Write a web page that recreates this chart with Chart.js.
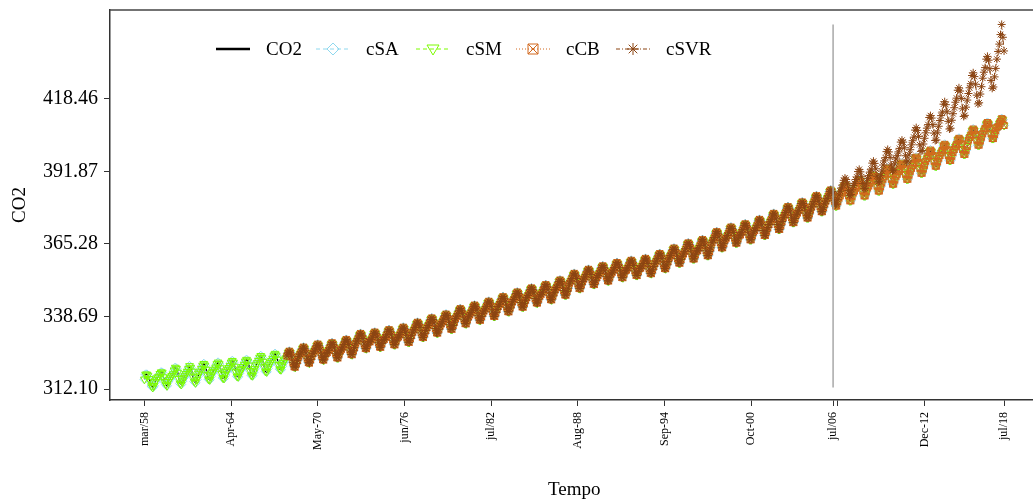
<!DOCTYPE html>
<html>
<head>
<meta charset="utf-8">
<title>CO2 - modelos</title>
<script src="https://cdn.jsdelivr.net/npm/chart.js@4.4.1/dist/chart.umd.min.js"></script>
<style>
  html, body { margin: 0; padding: 0; background: #fff; overflow: hidden; }
  #wrap { width: 1044px; height: 504px; }
</style>
</head>
<body>
<div id="wrap"><canvas id="grafico" width="1044" height="504"></canvas></div>
<script>
// Serie mensal de CO2, de mar/58 ate jul/18
const co2 = [
  315.7, 317.5, 317.5, 317.1, 315.9, 314.9, 313.2, 312.7, 313.3, 314.7,
  315.6, 316.4, 316.7, 317.7, 318.3, 318.2, 316.5, 314.8, 313.8, 313.3, 314.8, 315.6,
  316.4, 317.0, 317.6, 319.0, 320.0, 319.6, 318.2, 315.9, 314.2, 313.8, 315.0, 316.2,
  316.9, 317.7, 318.5, 319.5, 320.6, 320.0, 318.6, 316.5, 314.9, 314.4, 315.6, 316.8,
  317.8, 318.6, 319.6, 320.8, 321.4, 320.8, 319.3, 317.3, 315.7, 315.5, 316.8, 318.0,
  318.5, 319.3, 320.1, 321.3, 321.9, 321.3, 319.8, 317.8, 316.2, 316.0, 317.3, 318.5,
  319.1, 319.9, 320.7, 321.9, 322.5, 321.9, 320.4, 318.4, 316.8, 316.6, 317.9, 319.1,
  319.5, 320.3, 321.1, 322.3, 322.9, 322.3, 320.8, 318.8, 317.2, 317.0, 318.3, 319.5,
  320.9, 321.7, 322.5, 323.7, 324.3, 323.7, 322.2, 320.2, 318.6, 318.4, 319.7, 320.9,
  321.7, 322.5, 323.3, 324.5, 325.1, 324.5, 323.0, 321.0, 319.4, 319.2, 320.5, 321.7,
  322.6, 323.4, 324.2, 325.4, 326.0, 325.4, 323.9, 321.9, 320.3, 320.1, 321.4, 322.6,
  324.1, 324.9, 325.7, 326.9, 327.5, 326.9, 325.4, 323.4, 321.8, 321.6, 322.9, 324.1,
  325.2, 326.0, 326.8, 328.0, 328.6, 328.0, 326.5, 324.5, 322.9, 322.7, 324.0, 325.2,
  325.5, 326.3, 327.2, 328.5, 329.1, 328.5, 327.2, 325.2, 323.6, 323.5, 324.9, 326.1,
  326.7, 327.5, 328.4, 329.7, 330.3, 329.7, 328.4, 326.4, 324.8, 324.7, 326.1, 327.3,
  328.9, 329.7, 330.6, 331.9, 332.5, 331.9, 330.6, 328.6, 327.0, 326.9, 328.3, 329.5,
  329.4, 330.2, 331.1, 332.4, 333.0, 332.4, 331.1, 329.1, 327.5, 327.4, 328.8, 330.0,
  330.3, 331.1, 332.0, 333.3, 333.9, 333.3, 332.0, 330.0, 328.4, 328.3, 329.7, 330.9,
  331.2, 332.0, 332.9, 334.2, 334.8, 334.2, 332.9, 330.9, 329.3, 329.2, 330.6, 331.8,
  333.0, 333.8, 334.7, 336.0, 336.6, 336.0, 334.7, 332.7, 331.1, 331.0, 332.4, 333.6,
  334.6, 335.4, 336.3, 337.6, 338.2, 337.6, 336.3, 334.3, 332.7, 332.6, 334.0, 335.2,
  336.0, 336.8, 337.7, 339.0, 339.6, 339.0, 337.7, 335.7, 334.1, 334.0, 335.4, 336.6,
  338.0, 338.8, 339.7, 341.0, 341.6, 341.0, 339.7, 337.7, 336.1, 336.0, 337.4, 338.6,
  339.3, 340.1, 341.0, 342.3, 342.9, 342.3, 341.0, 339.0, 337.4, 337.3, 338.7, 339.9,
  340.7, 341.5, 342.4, 343.7, 344.3, 343.7, 342.4, 340.4, 338.8, 338.7, 340.1, 341.3,
  342.4, 343.2, 344.1, 345.4, 346.0, 345.4, 344.1, 342.1, 340.5, 340.4, 341.8, 343.0,
  344.1, 344.9, 345.8, 347.1, 347.7, 347.1, 345.8, 343.8, 342.2, 342.1, 343.5, 344.7,
  345.6, 346.4, 347.3, 348.6, 349.2, 348.6, 347.3, 345.3, 343.7, 343.6, 345.0, 346.2,
  346.8, 347.6, 348.5, 349.8, 350.4, 349.8, 348.5, 346.5, 344.9, 344.8, 346.2, 347.4,
  348.5, 349.3, 350.2, 351.5, 352.1, 351.5, 350.2, 348.2, 346.6, 346.5, 347.9, 349.1,
  350.9, 351.7, 352.6, 353.9, 354.5, 353.9, 352.6, 350.6, 349.0, 348.9, 350.3, 351.5,
  352.4, 353.2, 354.1, 355.4, 356.0, 355.4, 354.1, 352.1, 350.5, 350.4, 351.8, 353.0,
  353.7, 354.5, 355.4, 356.7, 357.3, 356.7, 355.4, 353.4, 351.8, 351.7, 353.1, 354.3,
  354.9, 355.7, 356.6, 357.9, 358.5, 357.9, 356.6, 354.6, 353.0, 352.9, 354.3, 355.5,
  355.7, 356.5, 357.4, 358.7, 359.3, 358.7, 357.4, 355.4, 353.8, 353.7, 355.1, 356.3,
  356.4, 357.2, 358.1, 359.4, 360.0, 359.4, 358.1, 356.1, 354.5, 354.4, 355.8, 357.0,
  358.2, 359.0, 359.9, 361.2, 361.8, 361.2, 359.9, 357.9, 356.3, 356.2, 357.6, 358.8,
  360.2, 361.0, 361.9, 363.2, 363.8, 363.2, 361.9, 359.9, 358.3, 358.2, 359.6, 360.8,
  361.6, 362.6, 363.5, 365.1, 365.7, 365.1, 363.7, 361.6, 359.8, 359.8, 361.3, 362.7,
  362.8, 363.8, 364.7, 366.3, 366.9, 366.3, 364.9, 362.8, 361.0, 361.0, 362.5, 363.9,
  365.7, 366.7, 367.6, 369.2, 369.8, 369.2, 367.8, 365.7, 363.9, 363.9, 365.4, 366.8,
  367.4, 368.4, 369.3, 370.9, 371.5, 370.9, 369.5, 367.4, 365.6, 365.6, 367.1, 368.5,
  368.6, 369.6, 370.5, 372.1, 372.7, 372.1, 370.7, 368.6, 366.8, 366.8, 368.3, 369.7,
  370.2, 371.2, 372.1, 373.7, 374.3, 373.7, 372.3, 370.2, 368.4, 368.4, 369.9, 371.3,
  372.4, 373.4, 374.3, 375.9, 376.5, 375.9, 374.5, 372.4, 370.6, 370.6, 372.1, 373.5,
  374.9, 375.9, 376.8, 378.4, 379.0, 378.4, 377.0, 374.9, 373.1, 373.1, 374.6, 376.0,
  376.6, 377.6, 378.5, 380.1, 380.7, 380.1, 378.7, 376.6, 374.8, 374.8, 376.3, 377.7,
  378.9, 379.9, 380.8, 382.4, 383.0, 382.4, 381.0, 378.9, 377.1, 377.1, 378.6, 380.0,
  381.0, 382.0, 382.9, 384.5, 385.1, 384.5, 383.1, 381.0, 379.2, 379.2, 380.7, 382.1,
  382.9, 383.9, 384.8, 386.4, 387.0, 386.4, 385.0, 382.9, 381.1, 381.1, 382.6, 384.0,
  384.7, 385.7, 386.6, 388.2, 388.8, 388.2, 386.8, 384.7, 382.9, 382.9, 384.4, 385.8,
  386.5, 387.5, 388.4, 390.0, 390.6, 390.0, 388.6, 386.5, 384.7, 384.7, 386.2, 387.6,
  389.0, 390.0, 390.9, 392.5, 393.1, 392.5, 391.1, 389.0, 387.2, 387.2, 388.7, 390.1,
  390.8, 391.8, 392.7, 394.3, 394.9, 394.3, 392.9, 390.8, 389.0, 389.0, 390.5, 391.9,
  393.0, 394.0, 394.9, 396.5, 397.1, 396.5, 395.1, 393.0, 391.2, 391.2, 392.7, 394.1,
  395.6, 396.6, 397.5, 399.1, 399.7, 399.1, 397.7, 395.6, 393.8, 393.8, 395.3, 396.7,
  397.7, 398.7, 399.6, 401.2, 401.8, 401.2, 399.8, 397.7, 395.9, 395.9, 397.4, 398.8,
  399.9, 400.9, 401.8, 403.4, 404.0, 403.4, 402.0, 399.9, 398.1, 398.1, 399.6, 401.0,
  403.3, 404.3, 405.2, 406.8, 407.4, 406.8, 405.4, 403.3, 401.5, 401.5, 403.0, 404.4,
  405.7, 406.7, 407.6, 409.2, 409.8, 409.2, 407.8, 405.7, 403.9, 403.9, 405.4, 406.8,
  408.0, 408.3, 409.4, 410.2, 411.2, 410.8, 408.7
];

// Previsao do cSVR no periodo de teste (jul/06 a jul/18)
const svrTeste = [
  383.6, 381.3, 379.6, 379.9, 381.5, 383.2,
  384.6, 385.8, 386.9, 388.6, 389.4, 388.9, 387.3, 384.9, 383.0, 383.4, 385.1, 386.7,
  387.5, 388.9, 389.8, 391.8, 392.6, 391.7, 389.9, 387.4, 385.5, 385.7, 387.6, 389.3,
  390.3, 391.6, 392.7, 394.9, 395.6, 394.8, 392.8, 390.1, 388.0, 388.3, 390.3, 392.0,
  394.2, 395.7, 396.9, 399.1, 399.9, 399.0, 397.0, 394.2, 392.1, 392.4, 394.6, 396.4,
  397.6, 399.0, 400.3, 402.6, 403.3, 402.6, 400.5, 397.6, 395.3, 395.7, 397.9, 399.8,
  401.6, 403.1, 404.4, 407.0, 407.9, 406.9, 404.7, 401.6, 399.2, 399.5, 401.9, 404.0,
  406.0, 407.7, 409.0, 411.6, 412.3, 411.4, 409.0, 405.9, 403.2, 403.4, 406.0, 408.4,
  410.5, 412.3, 413.6, 416.5, 417.4, 416.3, 413.7, 410.2, 407.4, 407.7, 410.6, 413.0,
  415.2, 417.2, 418.7, 421.6, 422.5, 421.3, 418.6, 414.8, 412.0, 412.4, 415.4, 418.0,
  420.4, 422.5, 424.0, 427.0, 428.0, 426.6, 423.8, 419.8, 416.6, 417.0, 420.2, 422.9,
  426.0, 428.2, 429.9, 433.0, 434.0, 432.6, 429.5, 425.2, 422.3, 422.8, 426.5, 429.6,
  433.0, 435.8, 438.5, 442.0, 445.7, 441.0, 436.0
];

// Eixos
const xTickPos = [0, 73, 146, 219, 292, 365, 438, 511, 580, 584, 657, 724];
const xTickLabels = ['mar/58', 'Apr-64', 'May-70', 'jun/76', 'jul/82', 'Aug-88', 'Sep-94', 'Oct-00', 'jul/06', '', 'Dec-12', 'jul/18'];
const yTicks = [312.10, 338.69, 365.28, 391.87, 418.46];

const inicioModelos = 120; // cCB e cSVR comecam em mar/68
const corte = 580;         // jul/06 - inicio do teste

// Monta as series no formato {x, y}
const serieCO2 = co2.map((v, i) => ({ x: i, y: v }));
const serieCB = serieCO2.slice(inicioModelos);
const serieSVR = serieCO2.slice(inicioModelos, corte)
  .concat(svrTeste.map((v, i) => ({ x: corte + i, y: v })));

const FONTE = "'Liberation Serif', 'Times New Roman', serif";
const cores = { co2: '#000000', sa: '#8fd8ee', sm: '#7cfc00', cb: '#d2691e', svr: '#8b4513' };

// quadrado com X (pch 7 do R)
function quadradoX(cor, r) {
  const s = Math.ceil(r * 2) + 2;
  const c = document.createElement('canvas');
  c.width = s; c.height = s;
  const g = c.getContext('2d');
  g.strokeStyle = cor;
  g.lineWidth = 1;
  const a = 1.5, b = s - 1.5;
  g.strokeRect(a, a, b - a, b - a);
  g.beginPath();
  g.moveTo(a, a); g.lineTo(b, b);
  g.moveTo(b, a); g.lineTo(a, b);
  g.stroke();
  return c;
}

// Legenda no estilo do R, dentro do grafico
const itensLegenda = [
  { nome: 'CO2', cor: cores.co2, dash: [], largura: 2.5, marca: null },
  { nome: 'cSA', cor: cores.sa, dash: [4, 3], largura: 1, marca: 'diamante' },
  { nome: 'cSM', cor: cores.sm, dash: [4, 3], largura: 1, marca: 'triangulo' },
  { nome: 'cCB', cor: cores.cb, dash: [1, 2], largura: 1, marca: 'quadrado' },
  { nome: 'cSVR', cor: cores.svr, dash: [4, 2, 1, 2], largura: 1, marca: 'asterisco' }
];

const legendaR = {
  id: 'legendaR',
  afterDraw(chart) {
    const ctx = chart.ctx;
    const y = 49;
    ctx.save();
    itensLegenda.forEach((it, k) => {
      const x0 = 216 + 100 * k, x1 = x0 + 34, xc = (x0 + x1) / 2;
      ctx.strokeStyle = it.cor;
      ctx.lineWidth = it.largura;
      ctx.setLineDash(it.dash);
      ctx.beginPath(); ctx.moveTo(x0, y); ctx.lineTo(x1, y); ctx.stroke();
      ctx.setLineDash([]);
      ctx.lineWidth = 1;
      ctx.beginPath();
      if (it.marca === 'diamante') {
        ctx.moveTo(xc, y - 6); ctx.lineTo(xc + 6, y); ctx.lineTo(xc, y + 6); ctx.lineTo(xc - 6, y); ctx.closePath();
      } else if (it.marca === 'triangulo') {
        ctx.moveTo(xc - 6, y - 4); ctx.lineTo(xc + 6, y - 4); ctx.lineTo(xc, y + 6); ctx.closePath();
      } else if (it.marca === 'quadrado') {
        ctx.rect(xc - 5, y - 5, 10, 10);
        ctx.moveTo(xc - 5, y - 5); ctx.lineTo(xc + 5, y + 5);
        ctx.moveTo(xc + 5, y - 5); ctx.lineTo(xc - 5, y + 5);
      } else if (it.marca === 'asterisco') {
        ctx.moveTo(xc - 6, y); ctx.lineTo(xc + 6, y);
        ctx.moveTo(xc, y - 6); ctx.lineTo(xc, y + 6);
        ctx.moveTo(xc - 4.3, y - 4.3); ctx.lineTo(xc + 4.3, y + 4.3);
        ctx.moveTo(xc + 4.3, y - 4.3); ctx.lineTo(xc - 4.3, y + 4.3);
      }
      ctx.stroke();
      ctx.fillStyle = '#000';
      ctx.font = '19px ' + FONTE;
      ctx.textAlign = 'left';
      ctx.textBaseline = 'middle';
      ctx.fillText(it.nome, x0 + 50, y + 1);
    });
    // linha de cima da moldura
    const area = chart.chartArea;
    ctx.strokeStyle = '#444';
    ctx.lineWidth = 1.5;
    ctx.beginPath(); ctx.moveTo(area.left, area.top); ctx.lineTo(area.right + 10, area.top); ctx.stroke();
    ctx.restore();
  }
};

// Linha vertical separando treino e teste (jul/06)
const linhaCorte = {
  id: 'linhaCorte',
  afterDatasetsDraw(chart) {
    const { ctx, scales: { x, y } } = chart;
    const px = x.getPixelForValue(corte);
    const yMin = Math.min(...co2), yMax = Math.max(...svrTeste);
    ctx.save();
    ctx.strokeStyle = '#a8a8a8';
    ctx.lineWidth = 1.5;
    ctx.beginPath();
    ctx.moveTo(px, y.getPixelForValue(yMin));
    ctx.lineTo(px, y.getPixelForValue(yMax));
    ctx.stroke();
    ctx.restore();
  }
};

const ctx = document.getElementById('grafico').getContext('2d');
new Chart(ctx, {
  type: 'line',
  data: {
    datasets: [
      { label: 'CO2', data: serieCO2, borderColor: cores.co2, borderWidth: 1.5, pointRadius: 0, order: 4 },
      { label: 'cSA', data: serieCO2, borderColor: cores.sa, borderWidth: 1, borderDash: [4, 3],
        pointStyle: 'rectRot', pointRadius: 4.5, pointBorderColor: cores.sa, pointBackgroundColor: 'rgba(0,0,0,0)', pointBorderWidth: 1, order: 3 },
      { label: 'cSM', data: serieCO2, borderColor: cores.sm, borderWidth: 1, borderDash: [4, 3],
        pointStyle: 'triangle', pointRotation: 180, pointRadius: 4.5, pointBorderColor: cores.sm, pointBackgroundColor: 'rgba(0,0,0,0)', pointBorderWidth: 1, order: 2 },
      { label: 'cCB', data: serieCB, borderColor: cores.cb, borderWidth: 1, borderDash: [1, 2],
        pointStyle: quadradoX(cores.cb, 3.5), pointRadius: 4, order: 1 },
      { label: 'cSVR', data: serieSVR, borderColor: cores.svr, borderWidth: 1, borderDash: [4, 2, 1, 2],
        pointStyle: 'star', pointRadius: 4, pointBorderColor: cores.svr, pointBorderWidth: 1, order: 0 }
    ]
  },
  options: {
    responsive: false,
    animation: false,
    events: [],
    layout: { padding: { top: 10, right: 5, left: 0, bottom: 0 } },
    plugins: { legend: { display: false }, tooltip: { enabled: false } },
    scales: {
      x: {
        type: 'linear',
        min: -29, max: 753,
        afterFit(scale) { scale.height = 104; scale.paddingLeft = 0; scale.paddingRight = 0; },
        afterBuildTicks(scale) { scale.ticks = xTickPos.map(v => ({ value: v })); },
        ticks: {
          autoSkip: false, minRotation: 90, maxRotation: 90, padding: 6, color: '#000',
          font: { family: FONTE, size: 12 },
          callback: (v) => xTickLabels[xTickPos.indexOf(v)] ?? ''
        },
        grid: { drawOnChartArea: false, drawTicks: true, tickLength: 6, color: '#333' },
        border: { color: '#333', width: 1.5 },
        title: { display: true, text: 'Tempo', color: '#000', font: { family: FONTE, size: 19 }, padding: { top: 0, bottom: 3 } }
      },
      y: {
        min: 308.1, max: 451.0,
        afterFit(scale) { scale.width = 110; scale.paddingTop = 0; scale.paddingBottom = 0; },
        afterBuildTicks(scale) { scale.ticks = yTicks.map(v => ({ value: v })); },
        ticks: {
          padding: 6, color: '#000',
          font: { family: FONTE, size: 20 },
          callback: (v) => Number(v).toFixed(2)
        },
        grid: { drawOnChartArea: false, drawTicks: true, tickLength: 6, color: '#333' },
        border: { color: '#333', width: 1.5 },
        title: { display: true, text: 'CO2', color: '#000', font: { family: FONTE, size: 19 }, padding: { top: 9, bottom: 0 } }
      }
    }
  },
  plugins: [linhaCorte, legendaR]
});
</script>
</body>
</html>
